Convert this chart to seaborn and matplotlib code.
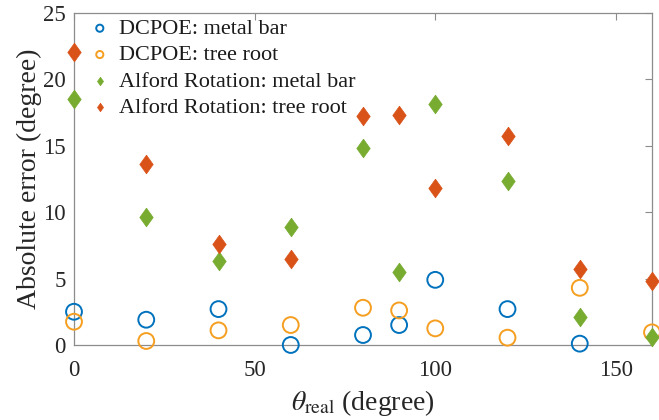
import numpy as np
import pandas as pd
import matplotlib
matplotlib.use("Agg")
import matplotlib.pyplot as plt
import seaborn as sns

# values
theta = [0, 20, 40, 60, 80, 90, 100, 120, 140, 160]
dcpoe_metal = [2.5, 1.9, 2.7, 0.0, 0.75, 1.5, 4.9, 2.7, 0.1, np.nan]
dcpoe_root = [1.75, 0.3, 1.1, 1.5, 2.8, 2.6, 1.25, 0.55, 4.3, 0.95]
alford_metal = [18.5, 9.6, 6.3, 8.9, 14.8, 5.5, 18.1, 12.3, 2.1, 0.6]
alford_root = [22.0, 13.6, 7.6, 6.45, 17.2, 17.3, 11.8, 15.7, 5.7, 4.8]

labels = ["DCPOE: metal bar", "DCPOE: tree root",
          "Alford Rotation: metal bar", "Alford Rotation: tree root"]
colors = ["#0072BD", "#F59E1F", "#77AC30", "#D95319"]

df = pd.DataFrame({"theta": theta, "dm": dcpoe_metal, "dr": dcpoe_root,
                   "am": alford_metal, "ar": alford_root})

sns.set_style("white")
plt.rcParams["font.family"] = ["Liberation Serif", "DejaVu Serif"]
plt.rcParams["mathtext.fontset"] = "stix"

fig = plt.figure(figsize=(6.59, 4.20), dpi=100)
ax = fig.add_axes([0.1123, 0.1786, 0.8771, 0.7914])

diamond = [(0, 1), (0.72, 0), (0, -1), (-0.72, 0), (0, 1)]

sns.scatterplot(data=df, x="theta", y="dm", ax=ax, marker="o", s=130,
                facecolors="none", edgecolors=colors[0], linewidth=1.4,
                label=labels[0], clip_on=False, zorder=3)
sns.scatterplot(data=df, x="theta", y="dr", ax=ax, marker="o", s=130,
                facecolors="none", edgecolors=colors[1], linewidth=1.4,
                label=labels[1], clip_on=False, zorder=3)
sns.scatterplot(data=df, x="theta", y="am", ax=ax, marker=diamond, s=180,
                color=colors[2], edgecolor=colors[2], linewidth=0.5,
                label=labels[2], clip_on=False, zorder=3)
sns.scatterplot(data=df, x="theta", y="ar", ax=ax, marker=diamond, s=180,
                color=colors[3], edgecolor=colors[3], linewidth=0.5,
                label=labels[3], clip_on=False, zorder=3)

ax.set_xlim(0, 160)
ax.set_ylim(0, 25)
ax.set_xticks([0, 50, 100, 150])
ax.set_yticks([0, 5, 10, 15, 20, 25])

for s in ax.spines.values():
    s.set_color("#8c8c8c")
    s.set_linewidth(0.9)
ax.tick_params(direction="in", length=5, width=0.8, color="#8c8c8c",
               top=True, right=True, labelsize=16.5, labelcolor="#262626")
ax.tick_params(axis="x", pad=11)
ax.tick_params(axis="y", pad=6)

ax.set_xlabel(r"$\theta_{\mathrm{real}}$ (degree)", fontsize=20, color="#262626", labelpad=5)
ax.set_ylabel("Absolute error (degree)", fontsize=20, color="#262626", labelpad=1)

leg = ax.legend(loc="upper left", frameon=False, fontsize=16, markerscale=0.45,
                handletextpad=0.35, labelspacing=0.26, borderaxespad=0.0,
                handlelength=1.0, bbox_to_anchor=(0.01, 1.009))
for t in leg.get_texts():
    t.set_color("#1a1a1a")

fig.savefig("out.png", dpi=100)
